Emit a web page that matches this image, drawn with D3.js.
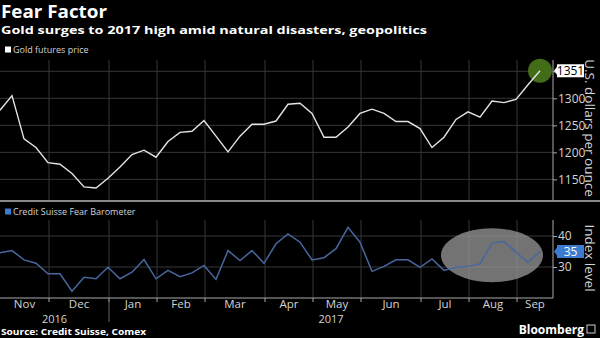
<!DOCTYPE html>
<html><head><meta charset="utf-8">
<script src="https://cdn.jsdelivr.net/npm/d3@7"></script>
<style>
html,body{margin:0;padding:0;background:#000;}
svg{display:block;}
text{font-family:"Open Sans","DejaVu Sans",sans-serif;}
</style></head>
<body><svg id="c" width="600" height="338"></svg>
<script>
// Weekly observations, early Nov 2016 -> mid Sep 2017
const goldPrice = [1278,1305,1225,1209,1181,1178,1161,1136,1134,1152,1173,1196,1204,1191,1220,1237,1239,1259,1230,1201,1230,1252,1252,1258,1289,1291,1272,1228,1228,1247,1272,1280,1272,1257,1257,1244,1209,1228,1261,1275,1265,1295,1292,1298,1325,1351];
const fearBarometer = [34.6,35.3,32.3,31.2,27.8,27.8,22.2,26.7,26.2,29.9,26.2,28.3,32.4,26.2,28.9,26.9,28.1,30.5,26.0,35.3,32.1,35.3,31.2,37.5,40.7,38.0,32.3,33.0,35.9,42.8,38.0,28.6,30.2,32.3,32.3,29.9,32.6,28.9,29.9,30.2,31.0,37.7,38.2,34.8,31.5,35.0];
const monthLabels = ["Nov","Dec","Jan","Feb","Mar","Apr","May","Jun","Jul","Aug","Sep"];
const monthStartWeek = [0,4,9,13,17,22,26,30,35,39,43];
const yearLabels = ["2016","2017"];
const yearStartWeek = [0,9];
const goldTicks = [1150,1200,1250,1300,1350];
const goldTickLabels = ["1150","1200","1250","1300"];
const fearTicks = [30,40];

const svg = d3.select("#c");
const W = 600, axisX = 553;
const x = d3.scaleLinear().domain([0, goldPrice.length - 1]).range([0, 540]);
const yTop = d3.scaleLinear().domain([1110, 1370]).range([201, 60.5]);
const yBot = d3.scaleLinear().domain([20, 45]).range([298, 220.5]);
const gridCol = "#363636", axisCol = "#aaa", txtCol = "#d4d4d4";
const boundaries = monthStartWeek.slice(1).map(w => x(w) + 1);
const tickFont = "'Liberation Sans',Arial,sans-serif";

// Title
svg.append("text").attr("x",1).attr("y",18).attr("fill","#fff").attr("font-size",17).attr("font-weight","bold")
  .attr("font-family","'DejaVu Sans',sans-serif").attr("textLength",106).attr("lengthAdjust","spacingAndGlyphs").text("Fear Factor");
svg.append("text").attr("x",1).attr("y",34).attr("fill","#fff").attr("font-size",11).attr("font-weight","bold")
  .attr("font-family","'DejaVu Sans',sans-serif").attr("textLength",426).attr("lengthAdjust","spacingAndGlyphs")
  .text("Gold surges to 2017 high amid natural disasters, geopolitics");

// Top legend
svg.append("rect").attr("x",5).attr("y",46.5).attr("width",6).attr("height",6).attr("fill","#fff");
svg.append("text").attr("x",13).attr("y",53).attr("fill",txtCol).attr("font-size",9).text("Gold futures price");

// Top panel grid
const topGrid = svg.append("g");
topGrid.selectAll("line.h").data(goldTicks).join("line").attr("class","h")
  .attr("x1",0).attr("x2",axisX).attr("y1",d=>yTop(d)).attr("y2",d=>yTop(d)).attr("stroke",gridCol);
topGrid.selectAll("line.v").data(boundaries).join("line").attr("class","v")
  .attr("x1",d=>d).attr("x2",d=>d).attr("y1",60).attr("y2",200).attr("stroke",gridCol);
// right axis
const gAxT = svg.append("g").attr("transform",`translate(${axisX},0)`)
  .call(d3.axisRight(yTop).tickValues(goldTicks).tickSize(4).tickFormat(d => goldTickLabels.includes(String(d)) ? d : ""));
gAxT.select(".domain").attr("stroke",axisCol).attr("d","M0,60V200");
gAxT.selectAll(".tick line").attr("stroke",axisCol);
gAxT.selectAll(".tick text").attr("fill",txtCol).attr("font-size",12).attr("x",5).attr("font-family",tickFont);
svg.append("text").attr("transform","translate(585,128) rotate(90)").attr("text-anchor","middle")
  .attr("fill",txtCol).attr("font-size",13.5).attr("font-family",tickFont).text("U.S. dollars per ounce");

// highlight circle at last gold point
const last = goldPrice.length - 1;
svg.append("circle").attr("cx",x(last)).attr("cy",yTop(goldPrice[last])).attr("r",12).attr("fill","#426c18");

// gold line
svg.append("path").datum(goldPrice)
  .attr("d", d3.line().x((d,i)=>x(i)).y(d=>yTop(d)))
  .attr("fill","none").attr("stroke","#e4e4e4").attr("stroke-width",1.4);

// last value label
function valueTag(yv, txt, fill, tcol){
  const g = svg.append("g").attr("transform",`translate(${axisX},${yv})`);
  g.append("path").attr("d","M1,0 L4,-4 L4,4 Z").attr("fill",fill);
  g.append("rect").attr("x",4).attr("y",-6.5).attr("width",27).attr("height",13).attr("fill",fill);
  g.append("text").attr("x",17.5).attr("y",4.3).attr("text-anchor","middle").attr("fill",tcol).attr("font-size",12)
    .attr("font-family",tickFont).text(txt);
}
valueTag(yTop(goldPrice[last]), String(goldPrice[last]), "#fff", "#000");

// separator
svg.append("line").attr("x1",0).attr("x2",W).attr("y1",201).attr("y2",201).attr("stroke","#8a8a8a").attr("stroke-width",2);

// Bottom legend
svg.append("rect").attr("x",5).attr("y",208.5).attr("width",6).attr("height",6).attr("fill","#3b7bd0");
svg.append("text").attr("x",13).attr("y",215).attr("fill",txtCol).attr("font-size",9).text("Credit Suisse Fear Barometer");

// Bottom grid
svg.selectAll("line.bh").data(fearTicks).join("line").attr("class","bh")
  .attr("x1",0).attr("x2",axisX).attr("y1",d=>yBot(d)).attr("y2",d=>yBot(d)).attr("stroke",gridCol);
svg.selectAll("line.bv").data(boundaries).join("line").attr("class","bv")
  .attr("x1",d=>d).attr("x2",d=>d).attr("y1",220).attr("y2",298).attr("stroke",gridCol);

const gAxB = svg.append("g").attr("transform",`translate(${axisX},0)`)
  .call(d3.axisRight(yBot).tickValues(fearTicks).tickSize(4));
gAxB.select(".domain").attr("stroke",axisCol).attr("d","M0,220V298");
gAxB.selectAll(".tick line").attr("stroke",axisCol);
gAxB.selectAll(".tick text").attr("fill",txtCol).attr("font-size",12).attr("x",5).attr("font-family",tickFont);
svg.append("text").attr("transform","translate(585,258) rotate(90)").attr("text-anchor","middle")
  .attr("fill",txtCol).attr("font-size",13.5).attr("font-family",tickFont).text("Index level");

// highlight ellipse over recent weeks
svg.append("ellipse").attr("cx",x(41)).attr("cy",yBot(33.8)).attr("rx",51).attr("ry",27)
  .attr("fill","#9a9a9a").attr("opacity",0.75);

// fear line
svg.append("path").datum(fearBarometer)
  .attr("d", d3.line().x((d,i)=>x(i)).y(d=>yBot(d)))
  .attr("fill","none").attr("stroke","#46679f").attr("stroke-width",1.5);

valueTag(yBot(fearBarometer[last]), String(Math.round(fearBarometer[last])), "#3b7bd0", "#fff");

// x axis
svg.append("line").attr("x1",0).attr("x2",axisX).attr("y1",298).attr("y2",298).attr("stroke",axisCol);
svg.selectAll("line.xt").data(boundaries).join("line").attr("class","xt")
  .attr("x1",d=>d).attr("x2",d=>d).attr("y1",298).attr("y2",302).attr("stroke",axisCol);
const mEnds = boundaries.concat([axisX]);
const mStarts = [0].concat(boundaries);
svg.selectAll("text.mon").data(monthLabels).join("text").attr("class","mon")
  .attr("x",(d,i)=>(mStarts[i]+mEnds[i])/2).attr("y",308).attr("text-anchor","middle")
  .attr("fill",txtCol).attr("font-size",11.5).attr("font-family",tickFont).text(d=>d);
const yStarts = yearStartWeek.map(w => w===0 ? 0 : x(w)+1);
const yEnds = yStarts.slice(1).concat([axisX]);
svg.selectAll("text.yr").data(yearLabels).join("text").attr("class","yr")
  .attr("x",(d,i)=>(yStarts[i]+yEnds[i])/2).attr("y",322.5).attr("text-anchor","middle")
  .attr("fill",txtCol).attr("font-size",11).attr("font-family",tickFont).text(d=>d);
svg.append("line").attr("x1",yStarts[1]).attr("x2",yStarts[1]).attr("y1",300).attr("y2",322).attr("stroke","#666");

// footer
svg.append("text").attr("x",1).attr("y",334.5).attr("fill","#fff").attr("font-size",9.5).attr("font-weight","bold")
  .attr("font-family","'DejaVu Sans',sans-serif").attr("textLength",145).attr("lengthAdjust","spacingAndGlyphs").text("Source: Credit Suisse, Comex");
svg.append("text").attr("x",584).attr("y",334).attr("text-anchor","end").attr("fill","#fff").attr("font-size",12).attr("font-weight","bold").text("Bloomberg");
svg.append("rect").attr("x",587).attr("y",325).attr("width",8).attr("height",8).attr("fill","none").attr("stroke","#ccc");
</script></body></html>
